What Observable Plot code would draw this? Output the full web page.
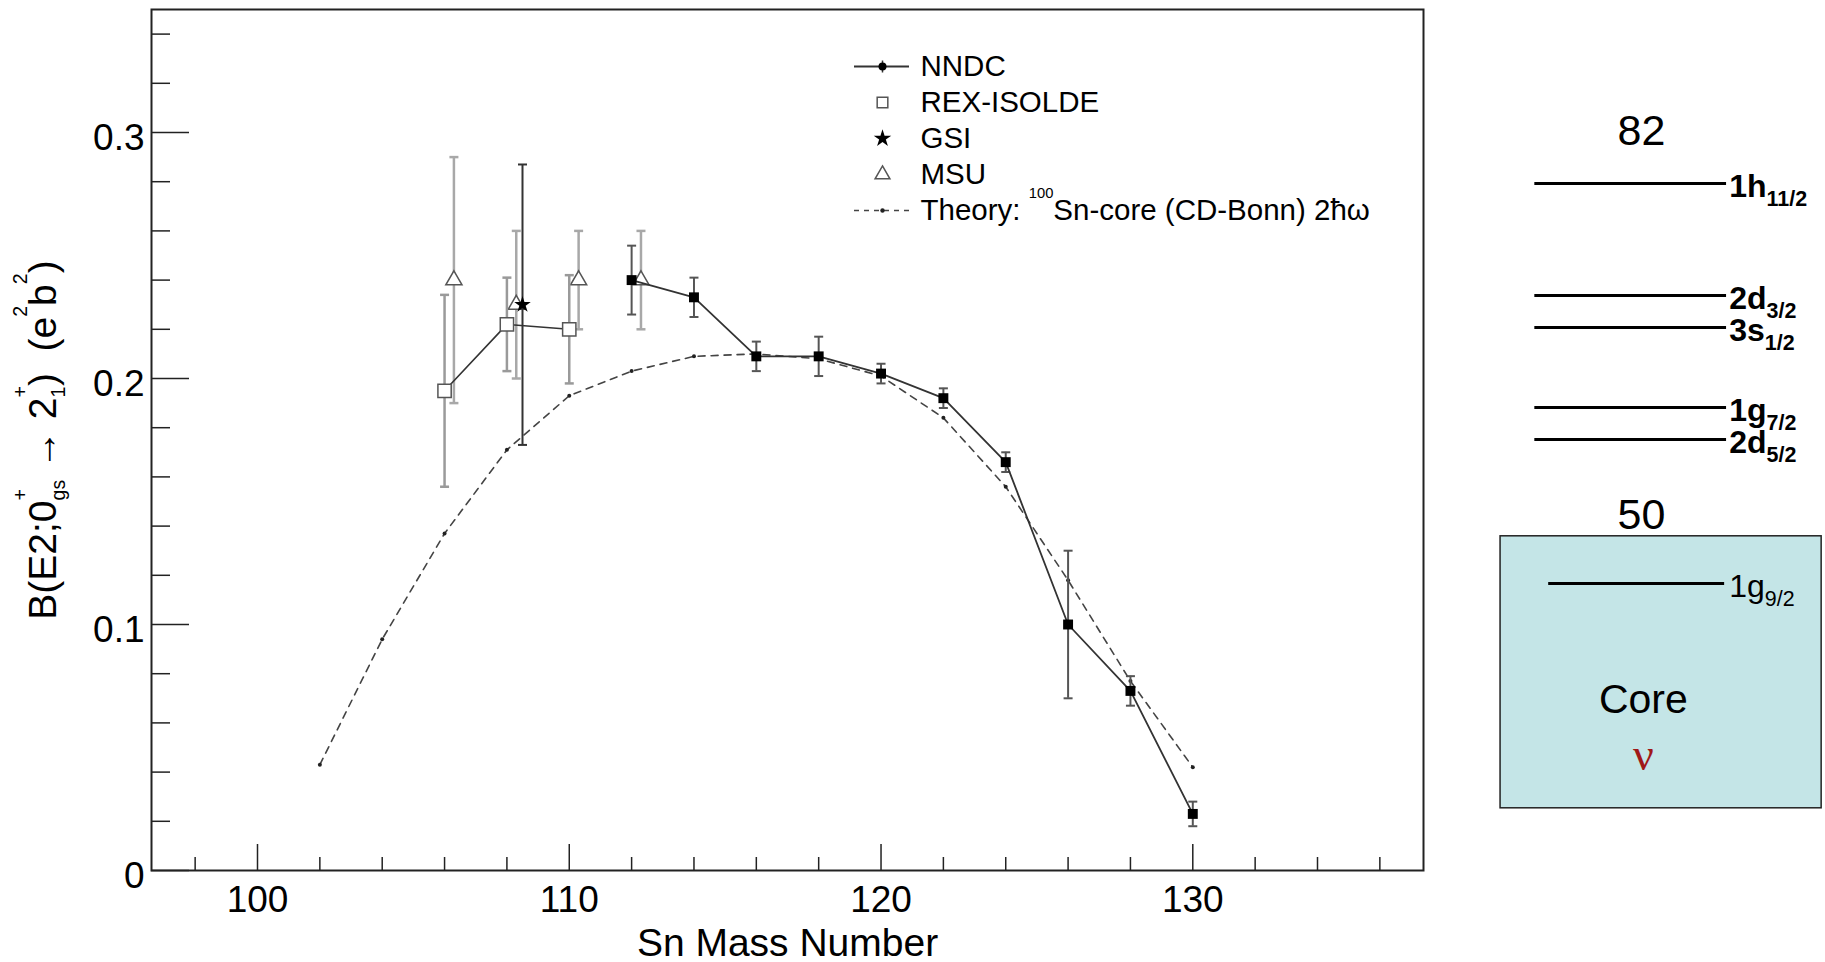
<!DOCTYPE html>
<html>
<head>
<meta charset="utf-8">
<script src="https://cdn.jsdelivr.net/npm/d3@7"></script>
<script src="https://cdn.jsdelivr.net/npm/@observablehq/plot@0.6"></script>
<style>
  html, body { margin: 0; padding: 0; background: #fff; }
  #wrap { position: relative; width: 1825px; height: 962px; display: flex; }
  #wrap > svg { flex: none; }
  #legend { position: absolute; left: 840px; top: 40px; }
</style>
</head>
<body>
<div id="wrap"><div id="legend"></div></div>
<script>
// ---------------- data ----------------
const nndcA   = [112, 114, 116, 118, 120, 122, 124, 126, 128, 130];
const nndcB   = [0.240, 0.233, 0.209, 0.209, 0.202, 0.192, 0.166, 0.100, 0.073, 0.023];
const nndcErr = [0.014, 0.008, 0.006, 0.008, 0.004, 0.004, 0.004, 0.030, 0.006, 0.005];

const rexA   = [106, 108, 110];
const rexB   = [0.195, 0.222, 0.220];
const rexErr = [0.039, 0.019, 0.022];

const gsiA   = [108.5];
const gsiB   = [0.230];
const gsiErr = [0.057];

const msuA   = [106.3, 108.3, 110.3, 112.3];
const msuB   = [0.240, 0.230, 0.240, 0.240];
const msuErr = [0.050, 0.030, 0.020, 0.020];

const theoryA = [102, 104, 106, 108, 110, 112, 114, 116, 118, 120, 122, 124, 126, 128, 130];
const theoryB = [0.043, 0.094, 0.137, 0.171, 0.193, 0.203, 0.209, 0.210, 0.208, 0.201, 0.184, 0.156, 0.118, 0.077, 0.042];

const xMajor = [100, 110, 120, 130];
const xTickLabels = ["100", "110", "120", "130"];
const yMajor = [0, 0.1, 0.2, 0.3];
const yTickLabels = ["0", "0.1", "0.2", "0.3"];

const xTitle = "Sn Mass Number";
const yTitle = "B(E2;0^{+}_{gs} \u2192 2^{+}_{1}) \u00a0(e^{2}b^{2})";
const legendLabels = ["NNDC", "REX-ISOLDE", "GSI", "MSU", "Theory: ^{100}Sn-core (CD-Bonn) 2\u0127\u03c9"];

// shell-model diagram (schematic single-particle energies, arbitrary units)
const valenceNames = ["1h_{11/2}", "2d_{3/2}", "3s_{1/2}", "1g_{7/2}", "2d_{5/2}"];
const valenceE     = [10.0, 7.2, 6.4, 4.4, 3.6];
const coreNames    = ["1g_{9/2}"];
const coreE        = [0];
const magicNumbers = ["82", "50"];
const magicE       = [11.3, 1.7];
const coreTop = 1.18, coreBottom = -5.62;
const coreLabel = "Core", coreLabelE = -2.9;
const nuLabel = "\u03bd", nuE = -4.3;

// ---------------- tables ----------------
const tab = (A, B, E) => A.map((a, i) => ({A: a, B: B[i], err: E ? E[i] : 0}));
const nndc = tab(nndcA, nndcB, nndcErr);
const rex = tab(rexA, rexB, rexErr);
const gsi = tab(gsiA, gsiB, gsiErr);
const msu = tab(msuA, msuB, msuErr);
const theory = tab(theoryA, theoryB);

const isMajor = (v, step) => Math.abs(v / step - Math.round(v / step)) < 1e-6;
const xMinor = d3.range(98, 137, 2).filter(v => !isMajor(v, 10));
const yMinor = d3.range(1, 18).map(k => k * 0.02).filter(v => !isMajor(v, 0.1));

const FONT = "'Liberation Sans', Arial, Helvetica, sans-serif";
const capSymbol = {draw(ctx, size) { const w = Math.sqrt(size / Math.PI); ctx.moveTo(-w, 0); ctx.lineTo(w, 0); }};
const vbarSymbol = {draw(ctx, size) { const w = Math.sqrt(size / Math.PI); ctx.moveTo(0, -w); ctx.lineTo(0, w); }};

function errorBars(data, stroke, width) {
  return [
    Plot.ruleX(data, {x: "A", y1: d => d.B - d.err, y2: d => d.B + d.err, stroke, strokeWidth: width}),
    Plot.dot(data, {x: "A", y: d => d.B - d.err, symbol: capSymbol, r: 4.5, stroke, strokeWidth: width, fill: "none"}),
    Plot.dot(data, {x: "A", y: d => d.B + d.err, symbol: capSymbol, r: 4.5, stroke, strokeWidth: width, fill: "none"})
  ];
}

// ---------------- main chart ----------------
const W = 1440, H = 962, ML = 151, MR = 17, MT = 9, MB = 92;
const innerW = W - ML - MR, innerH = H - MT - MB;

const main = Plot.plot({
  width: W, height: H,
  marginLeft: ML, marginRight: MR, marginTop: MT, marginBottom: MB,
  x: {domain: [96.6, 137.4]},
  y: {domain: [0, 0.35]},
  style: {fontFamily: FONT, background: "transparent", color: "black"},
  marks: [
    Plot.ruleX(xMinor, {insetTop: innerH - 13, stroke: "#222", strokeWidth: 1.5}),
    Plot.ruleX(xMajor, {insetTop: innerH - 26, stroke: "#222", strokeWidth: 1.5}),
    Plot.ruleY(yMinor, {insetRight: innerW - 19, stroke: "#222", strokeWidth: 1.5}),
    Plot.ruleY(yMajor, {insetRight: innerW - 38, stroke: "#222", strokeWidth: 1.5}),
    Plot.axisX({ticks: xMajor, tickSize: 0, tickPadding: 15, fontSize: 37, label: null,
                tickFormat: d => xTickLabels[xMajor.indexOf(d)]}),
    Plot.axisY({ticks: yMajor, tickSize: 0, tickPadding: 7, fontSize: 37, label: null, dy: 6,
                tickFormat: d => yTickLabels[yMajor.indexOf(d)]}),
    // theory
    Plot.line(theory, {x: "A", y: "B", stroke: "#444", strokeWidth: 1.6, strokeDasharray: "7,6"}),
    Plot.dot(theory, {x: "A", y: "B", r: 2, fill: "#222"}),
    // MSU
    ...errorBars(msu, "#a8a8a8", 2.5),
    Plot.dot(msu, {x: "A", y: "B", symbol: "triangle", r: 6, fill: "white", stroke: "#555", strokeWidth: 1.5}),
    // REX-ISOLDE
    ...errorBars(rex, "#9a9a9a", 2.5),
    Plot.line(rex, {x: "A", y: "B", stroke: "#333", strokeWidth: 1.6}),
    Plot.dot(rex, {x: "A", y: "B", symbol: "square", r: 7.5, fill: "white", stroke: "#555", strokeWidth: 1.5}),
    // GSI
    ...errorBars(gsi, "#333", 2),
    Plot.dot(gsi, {x: "A", y: "B", symbol: "star", r: 5.2, fill: "black"}),
    // NNDC
    ...errorBars(nndc, "#555", 2),
    Plot.line(nndc, {x: "A", y: "B", stroke: "#333", strokeWidth: 1.8}),
    Plot.dot(nndc, {x: "A", y: "B", symbol: "square", r: 5.6, fill: "black"}),
    Plot.frame({stroke: "#222", strokeWidth: 2}),
    Plot.text([xTitle], {frameAnchor: "bottom", dy: 85, lineAnchor: "bottom", fontSize: 39, text: d => d}),
    Plot.text([yTitle], {frameAnchor: "left", dx: -96, rotate: -90, textAnchor: "middle", lineAnchor: "bottom", fontSize: 39, text: d => d})
  ]
});

// ---------------- legend ----------------
const L = legendLabels;
const legend = Plot.plot({
  width: 560, height: 200, margin: 0,
  x: {domain: [0, 560], range: [0, 560], axis: null},
  y: {type: "point", domain: L, range: [24, 171], padding: 0, axis: null},
  style: {fontFamily: FONT, background: "transparent", color: "black"},
  marks: [
    Plot.ruleY([L[0]], {y: d => d, x1: 14, x2: 69, stroke: "#333", strokeWidth: 1.8}),
    Plot.dot([L[0]], {x: 42, y: d => d, symbol: vbarSymbol, r: 6, stroke: "#333", strokeWidth: 1.5, fill: "none"}),
    Plot.dot([L[0]], {x: 42, y: d => d, r: 4, fill: "black"}),
    Plot.dot([L[1]], {x: 42, y: d => d, symbol: "square", r: 6, fill: "white", stroke: "#555", strokeWidth: 1.5}),
    Plot.dot([L[2]], {x: 42, y: d => d, symbol: "star", r: 5.5, fill: "black"}),
    Plot.dot([L[3]], {x: 42, y: d => d, symbol: "triangle", r: 5.5, fill: "white", stroke: "#555", strokeWidth: 1.5}),
    Plot.ruleY([L[4]], {y: d => d, x1: 14, x2: 69, stroke: "#444", strokeWidth: 1.5, strokeDasharray: "5,5"}),
    Plot.dot([L[4]], {x: 42, y: d => d, r: 2.2, fill: "#222"}),
    Plot.text(L, {x: 80, y: d => d, text: d => d, textAnchor: "start", fontSize: 29.5})
  ]
});

// ---------------- shell diagram ----------------
const valence = valenceNames.map((n, i) => ({name: n, E: valenceE[i]}));
const coreLevels = coreNames.map((n, i) => ({name: n, E: coreE[i]}));
const magic = magicNumbers.map((n, i) => ({n, E: magicE[i]}));

const diag = Plot.plot({
  width: 385, height: 962, margin: 0,
  x: {domain: [0, 1], axis: null},
  y: {domain: [-9.475, 14.575], axis: null},
  style: {fontFamily: FONT, background: "transparent", color: "black"},
  marks: [
    Plot.rect([coreLabel], {x1: 0.156, x2: 0.99, y1: coreBottom, y2: coreTop, fill: "#c4e5e7", stroke: "#222", strokeWidth: 1.5}),
    Plot.ruleY(valence, {y: "E", x1: 0.245, x2: 0.743, stroke: "black", strokeWidth: 3}),
    Plot.ruleY(coreLevels, {y: "E", x1: 0.281, x2: 0.738, stroke: "black", strokeWidth: 3}),
    Plot.text(valence, {x: 0.75, y: "E", text: "name", textAnchor: "start", fontSize: 32, fontWeight: "bold", dy: 3}),
    Plot.text(coreLevels, {x: 0.75, y: "E", text: "name", textAnchor: "start", fontSize: 32, dy: 3}),
    Plot.text(magic, {x: 0.522, y: "E", text: "n", fontSize: 43}),
    Plot.text([coreLabel], {x: 0.527, y: coreLabelE, text: d => d, fontSize: 41}),
    Plot.text([nuLabel], {x: 0.527, y: nuE, text: d => d, fontSize: 46, fontFamily: "'Liberation Serif', serif", fill: "#a01818"})
  ]
});

const wrap = document.getElementById("wrap");
wrap.insertBefore(main, wrap.firstChild);
wrap.appendChild(diag);
document.getElementById("legend").appendChild(legend);

// ------------- rich text (super/subscripts) -------------
function richify(root, o) {
  const NS = "http://www.w3.org/2000/svg";
  root.querySelectorAll("text").forEach(t => {
    const s = t.textContent;
    if (!/[\^_]\{/.test(s)) return;
    const fs = parseFloat(getComputedStyle(t).fontSize);
    const parts = s.split(/(\^\{[^}]*\}|_\{[^}]*\})/).filter(p => p !== "");
    while (t.firstChild) t.removeChild(t.firstChild);
    let shift = 0, lastSupW = 0, lastWasSup = false, pendingDx = 0;
    for (const p of parts) {
      const isSup = p.startsWith("^{"), isSub = p.startsWith("_{");
      const ts = document.createElementNS(NS, "tspan");
      let target = 0;
      if (isSup) { ts.textContent = p.slice(2, -1); ts.setAttribute("font-size", fs * o.supScale); target = -fs * o.supRise; }
      else if (isSub) { ts.textContent = p.slice(2, -1); ts.setAttribute("font-size", fs * o.subScale); target = fs * o.subDrop; }
      else { ts.textContent = p; }
      ts.setAttribute("dy", target - shift);
      shift = target;
      let dx = pendingDx; pendingDx = 0;
      if (isSub && lastWasSup) dx -= lastSupW;
      if (dx) ts.setAttribute("dx", dx);
      t.appendChild(ts);
      const w = ts.getComputedTextLength();
      if (isSub && lastWasSup && w < lastSupW) pendingDx = lastSupW - w;
      lastWasSup = isSup;
      lastSupW = isSup ? w : 0;
    }
  });
}
richify(main, {supScale: 0.5, subScale: 0.5, supRise: 0.72, subDrop: 0.25});
richify(legend, {supScale: 0.5, subScale: 0.5, supRise: 0.75, subDrop: 0.25});
richify(diag, {supScale: 0.67, subScale: 0.67, supRise: 0.4, subDrop: 0.3});
</script>
</body>
</html>
